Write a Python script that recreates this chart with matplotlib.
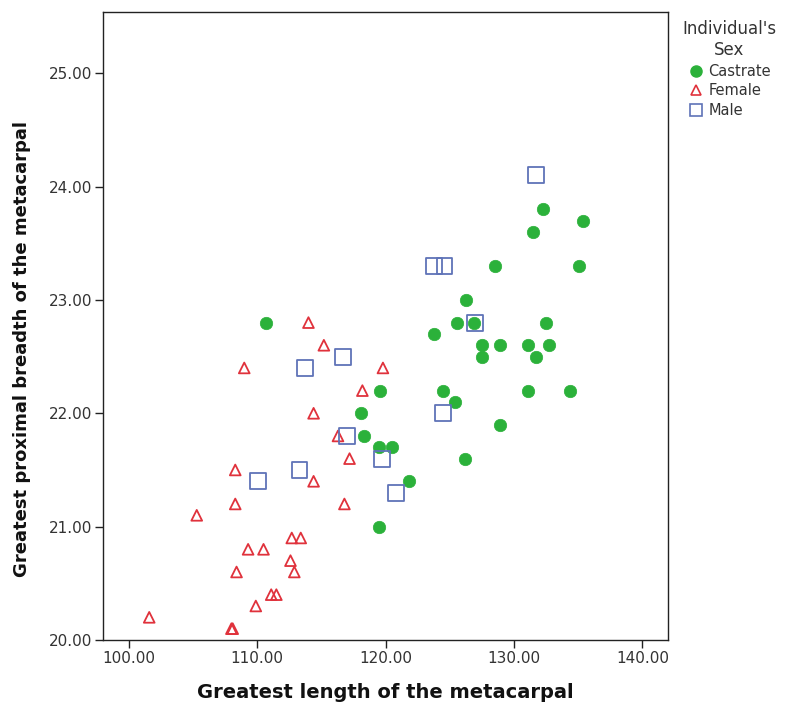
import matplotlib
matplotlib.use("Agg")
import matplotlib.pyplot as plt
from matplotlib.lines import Line2D

# Greatest length (x) and greatest proximal breadth (y) of the metacarpal, by sex
castrate_length = [110.7, 119.5, 119.5, 120.5, 119.6, 118.1, 118.3, 121.8, 123.8, 124.5,
                   125.4, 126.3, 125.6, 126.9, 126.2, 127.5, 127.5, 128.5, 128.9, 128.9,
                   131.5, 132.3, 131.1, 131.7, 132.5, 132.7, 131.1, 134.4, 135.1, 135.4]
castrate_breadth = [22.8, 21.0, 21.7, 21.7, 22.2, 22.0, 21.8, 21.4, 22.7, 22.2,
                    22.1, 23.0, 22.8, 22.8, 21.6, 22.6, 22.5, 23.3, 22.6, 21.9,
                    23.6, 23.8, 22.6, 22.5, 22.8, 22.6, 22.2, 22.2, 23.3, 23.7]

female_length = [109.0, 114.0, 115.2, 119.8, 118.2, 114.4, 116.3, 117.2, 114.4, 116.8,
                 108.3, 108.3, 105.3, 112.7, 113.4, 109.3, 110.5, 112.6, 108.4, 112.9,
                 111.1, 111.5, 109.9, 101.6, 108.0, 108.1]
female_breadth = [22.4, 22.8, 22.6, 22.4, 22.2, 22.0, 21.8, 21.6, 21.4, 21.2,
                  21.5, 21.2, 21.1, 20.9, 20.9, 20.8, 20.8, 20.7, 20.6, 20.6,
                  20.4, 20.4, 20.3, 20.2, 20.1, 20.1]

male_length = [123.8, 124.6, 131.7, 127.0, 116.7, 113.7, 124.5, 117.0, 119.7, 113.3,
               110.1, 120.8]
male_breadth = [23.3, 23.3, 24.1, 22.8, 22.5, 22.4, 22.0, 21.8, 21.6, 21.5,
                21.4, 21.3]

x_ticks = [100, 110, 120, 130, 140]
y_ticks = [20, 21, 22, 23, 24, 25]

GREEN = "#2bb13a"
RED = "#e0323c"
BLUE = "#5f73b8"
TEXT = "#333333"

plt.rcParams["font.family"] = ["DejaVu Sans"]

fig = plt.figure(figsize=(7.86, 7.09), dpi=100)
ax = fig.add_axes([103 / 786, 1 - 640 / 709, (668 - 103) / 786, (640 - 12) / 709])

ax.scatter(castrate_length, castrate_breadth, marker="o", s=80, color=GREEN,
           edgecolors=GREEN, linewidths=0.5, zorder=3)
ax.scatter(female_length, female_breadth, marker="^", s=60, facecolors="none",
           edgecolors=RED, linewidths=1.3, zorder=3)
ax.scatter(male_length, male_breadth, marker="s", s=130, facecolors="none",
           edgecolors=BLUE, linewidths=1.3, zorder=3)

ax.set_xlim(98.0, 142.0)
ax.set_ylim(20.0, 25.54)
ax.set_xticks(x_ticks)
ax.set_yticks(y_ticks)
ax.set_xticklabels([f"{v:.2f}" for v in x_ticks])
ax.set_yticklabels([f"{v:.2f}" for v in y_ticks])
ax.tick_params(axis="both", direction="out", length=6, width=1, colors="#222222",
               labelsize=11, labelcolor=TEXT, pad=2)

for side in ["left", "right", "top", "bottom"]:
    ax.spines[side].set_color("#222222")
    ax.spines[side].set_linewidth(1.0)

ax.set_xlabel("Greatest length of the metacarpal", fontsize=14, fontweight="bold",
              color="#111111", labelpad=12)
ax.set_ylabel("Greatest proximal breadth of the metacarpal", fontsize=13,
              fontweight="bold", color="#111111")
ax.yaxis.set_label_coords(-0.127, 0.463)

handles = [
    Line2D([], [], linestyle="none", marker="o", markersize=8, color=GREEN, label="Castrate"),
    Line2D([], [], linestyle="none", marker="^", markersize=7, markerfacecolor="none",
           markeredgecolor=RED, markeredgewidth=1.2, label="Female"),
    Line2D([], [], linestyle="none", marker="s", markersize=9, markerfacecolor="none",
           markeredgecolor=BLUE, markeredgewidth=1.2, label="Male"),
]
leg = fig.legend(handles=handles, title="Individual's\nSex", loc="upper left",
                 bbox_to_anchor=(672 / 786, 1 - 10 / 709), frameon=False,
                 fontsize=10.5, title_fontsize=12, handletextpad=0.2,
                 handlelength=1.2, labelspacing=0.32, borderpad=0.2)
leg.get_title().set_multialignment("center")
leg.get_title().set_color(TEXT)
for t in leg.get_texts():
    t.set_color(TEXT)

fig.savefig("out.png", dpi=100)
